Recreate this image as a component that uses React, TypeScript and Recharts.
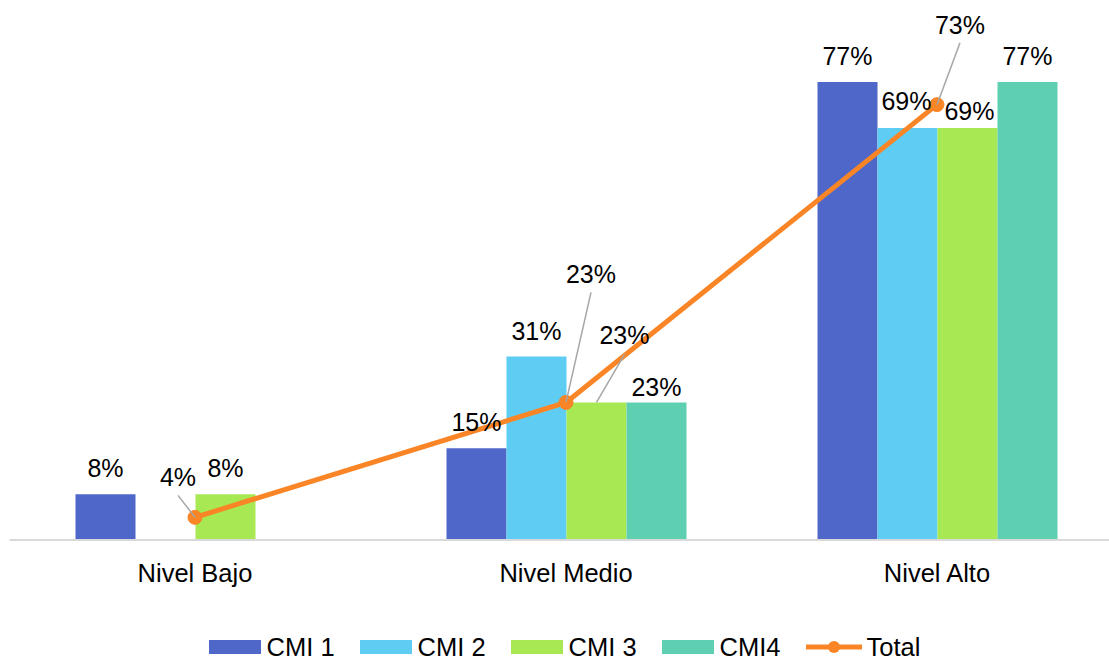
import React from "react";
import { Bar, ComposedChart, LabelList, Legend, Line, XAxis, YAxis } from "recharts";

const categories = ["Nivel Bajo", "Nivel Medio", "Nivel Alto"];
const cmi1 = [7.7, 15.4, 76.9];
const cmi2 = [0, 30.8, 69.2];
const cmi3 = [7.7, 23.1, 69.2];
const cmi4 = [0, 23.1, 76.9];
const total = [3.8, 23.1, 73.1];

const FONT = '"Liberation Sans", Arial, sans-serif';
const TEXT = "#000";
const LEADER = "#a6a6a6";

const series = [
  { key: "cmi1", label: "CMI 1", color: "#4f67c8", values: cmi1 },
  { key: "cmi2", label: "CMI 2", color: "#5fcdf3", values: cmi2 },
  { key: "cmi3", label: "CMI 3", color: "#a8e852", values: cmi3 },
  { key: "cmi4", label: "CMI4", color: "#5ecfb1", values: cmi4 },
];
const TOTAL_COLOR = "#fa8526";

const data = categories.map((name, i) => ({
  name,
  cmi1: cmi1[i],
  cmi2: cmi2[i],
  cmi3: cmi3[i],
  cmi4: cmi4[i],
  total: total[i],
}));

// label nudges [dx, dy, leader?] per series / category, dy is baseline from the bar top or point
const barNudge: Record<string, [number, number, boolean][]> = {
  cmi1: [[0, -17, false], [0, -17, false], [0, -17, false]],
  cmi2: [[0, -17, false], [0, -17, false], [-1, -18, false]],
  cmi3: [[0, -17, false], [28, -58, true], [2, -8, false]],
  cmi4: [[0, -17, false], [0, -6, false], [0, -17, false]],
};
const totalNudge: [number, number][] = [[-17, -31], [25, -119], [23, -71]];

const pct = (v: number) => `${Math.round(v)}%`;

// zero bars are dropped from the label list, so find the category from the value
const barLabel = (key: string, values: number[]) => (p: any) => {
  const v = Number(p.value);
  if (!v) return null;
  const i = values.indexOf(v);
  const [dx, dy, leader] = barNudge[key][i < 0 ? p.index : i];
  const cx = p.x + p.width / 2;
  const tx = cx + dx;
  const ty = p.y + dy;
  return (
    <g>
      {leader && <line x1={tx} y1={ty + 10} x2={cx} y2={p.y} stroke={LEADER} strokeWidth={1.5} />}
      <text x={tx} y={ty} textAnchor="middle" fontSize={25} fontFamily={FONT} fill={TEXT}>
        {pct(v)}
      </text>
    </g>
  );
};

const totalLabel = (p: any) => {
  const [dx, dy] = totalNudge[p.index];
  const tx = p.x + dx;
  const ty = p.y + dy;
  return (
    <g>
      <line x1={tx} y1={ty + 9} x2={p.x} y2={p.y} stroke={LEADER} strokeWidth={1.5} />
      <text x={tx} y={ty} textAnchor="middle" fontSize={25} fontFamily={FONT} fill={TEXT}>
        {pct(Number(p.value))}
      </text>
    </g>
  );
};

const CategoryTick = (p: any) => (
  <text x={p.x} y={p.y + 34} textAnchor="middle" fontSize={25.5} fontFamily={FONT} fill={TEXT}>
    {p.payload.value}
  </text>
);

const LegendBox = () => (
  <div
    style={{
      display: "flex",
      justifyContent: "center",
      alignItems: "center",
      height: 24,
      paddingLeft: 20,
      fontFamily: FONT,
      fontSize: 25.5,
      color: TEXT,
    }}
  >
    {series.map((s) => (
      <div key={s.key} style={{ display: "flex", alignItems: "center", marginRight: 25 }}>
        <span style={{ display: "inline-block", width: 52, height: 14, background: s.color, marginRight: 6 }} />
        <span>{s.label}</span>
      </div>
    ))}
    <div style={{ display: "flex", alignItems: "center" }}>
      <svg width={56} height={14} style={{ marginRight: 5 }}>
        <line x1={0} y1={7} x2={56} y2={7} stroke={TOTAL_COLOR} strokeWidth={5} strokeLinecap="round" />
        <circle cx={28} cy={7} r={6} fill={TOTAL_COLOR} />
      </svg>
      <span>Total</span>
    </div>
  </div>
);

export default function App() {
  return (
    <div style={{ position: "absolute", left: 0, top: 0, width: 1109, height: 659, overflow: "hidden", background: "#fff" }}>
      <ComposedChart
        width={1124}
        height={659}
        data={data}
        barGap={0}
        margin={{ top: 4, right: 1.5, left: 9.5, bottom: 0 }}
      >
        <XAxis
          dataKey="name"
          height={95}
          tickLine={false}
          axisLine={{ stroke: "#d9d9d9", strokeWidth: 2 }}
          tick={<CategoryTick />}
          interval={0}
        />
        <YAxis hide domain={[0, 90]} />
        <Legend
          verticalAlign="bottom"
          content={<LegendBox />}
          wrapperStyle={{ left: 0, width: 1109, bottom: 0 }}
        />
        {series.map((s) => (
          <Bar key={s.key} dataKey={s.key} name={s.label} fill={s.color} barSize={60} isAnimationActive={false}>
            <LabelList dataKey={s.key} content={barLabel(s.key, s.values)} />
          </Bar>
        ))}
        <Line
          dataKey="total"
          name="Total"
          stroke={TOTAL_COLOR}
          strokeWidth={5}
          dot={{ r: 7, fill: TOTAL_COLOR, stroke: TOTAL_COLOR, strokeWidth: 1 }}
          activeDot={false}
          isAnimationActive={false}
        >
          <LabelList dataKey="total" content={totalLabel} />
        </Line>
      </ComposedChart>
    </div>
  );
}
